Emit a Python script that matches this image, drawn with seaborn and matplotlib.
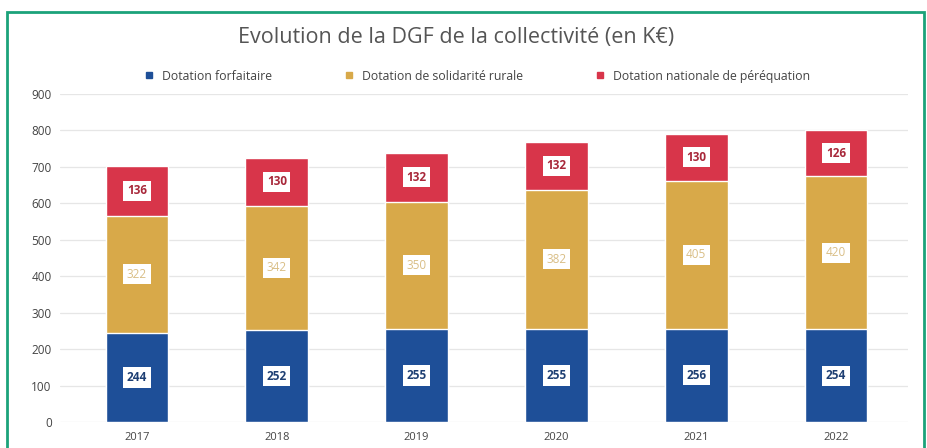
import matplotlib
matplotlib.use("Agg")
import matplotlib.pyplot as plt
import seaborn as sns
import pandas as pd
import numpy as np
from matplotlib.patches import Rectangle
from matplotlib.lines import Line2D

years = ["2017", "2018", "2019", "2020", "2021", "2022"]
forfaitaire = [244, 252, 255, 255, 256, 254]
rurale = [322, 342, 350, 382, 405, 420]
perequation = [136, 130, 132, 132, 130, 126]
series_names = ["Dotation forfaitaire", "Dotation de solidarité rurale", "Dotation nationale de péréquation"]
yticks = [0, 100, 200, 300, 400, 500, 600, 700, 800, 900]

c_blue = "#1E4F98"
c_gold = "#D8A949"
c_red = "#D8354A"

sns.set_theme(style="white")
plt.rcParams["font.family"] = ["Open Sans", "DejaVu Sans"]

fig = plt.figure(figsize=(9.27, 4.48), dpi=100)
ax = fig.add_axes([60/927, 1-422/448, (908-60)/927, (422-94)/448])

f = np.array(forfaitaire)
r = np.array(rurale)
p = np.array(perequation)
df = pd.DataFrame({"year": years, "top": f + r + p, "mid": f + r, "bot": f})

sns.barplot(data=df, x="year", y="top", color=c_red, width=0.45, saturation=1, ax=ax, zorder=2)
sns.barplot(data=df, x="year", y="mid", color=c_gold, width=0.45, saturation=1, ax=ax, zorder=3)
sns.barplot(data=df, x="year", y="bot", color=c_blue, width=0.45, saturation=1, ax=ax, zorder=4)

for i in range(len(years)):
    ax.text(i, f[i] / 2, str(f[i]), ha="center", va="center", fontsize=8.5, fontweight="bold",
            color="#1E3F73", zorder=6,
            bbox=dict(boxstyle="square,pad=0.3", fc="white", ec="none"))
    ax.text(i, f[i] + r[i] / 2, str(r[i]), ha="center", va="center", fontsize=8.5,
            color="#D9BE86", zorder=6,
            bbox=dict(boxstyle="square,pad=0.3", fc="white", ec="none"))
    ax.text(i, f[i] + r[i] + p[i] / 2, str(p[i]), ha="center", va="center", fontsize=8.5, fontweight="bold",
            color="#A8283A", zorder=6,
            bbox=dict(boxstyle="square,pad=0.3", fc="white", ec="none"))

ax.set_ylim(0, 900)
ax.set_xlim(-0.551, 5.515)
ax.set_yticks(yticks)
ax.set_yticklabels([str(t) for t in yticks])
ax.yaxis.grid(True, color="#E6E6E6", linewidth=0.9, zorder=0)
ax.set_axisbelow(True)
for s in ax.spines.values():
    s.set_visible(False)
ax.set_xlabel("")
ax.set_ylabel("")
ax.tick_params(axis="y", labelsize=8.5, colors="#444444", length=0, pad=6)
ax.tick_params(axis="x", labelsize=8, colors="#444444", length=0, pad=7)

fig.text(0.492, 1 - 38/448, "Evolution de la DGF de la collectivité (en K€)", ha="center", va="center",
         fontsize=15.5, color="#555555")

handles = [Line2D([], [], marker="s", linestyle="none", markersize=4.2, color=c)
           for c in (c_blue, c_gold, c_red)]
fig.legend(handles, series_names, loc="center", bbox_to_anchor=(0.511, 1 - 76/448), ncol=3,
           frameon=False, fontsize=8.8, handletextpad=0.05, columnspacing=5.3, labelcolor="#444444")

fig.patches.append(Rectangle((7/927, -0.05), (924-7)/927, 1.05 - 12/448, transform=fig.transFigure,
                             fill=False, edgecolor="#1BA27A", linewidth=2, clip_on=False))

fig.savefig("out.png", dpi=100)
